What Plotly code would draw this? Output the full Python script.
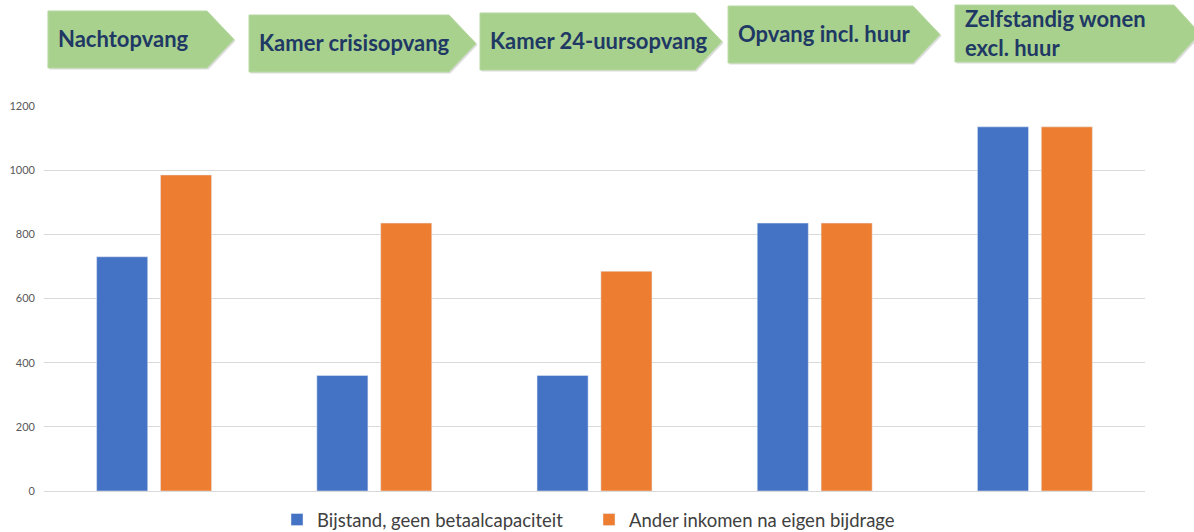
import plotly.graph_objects as go

# data
stages = ["Nachtopvang", "Kamer crisisopvang", "Kamer 24-uursopvang",
          "Opvang incl. huur", "Zelfstandig wonen<br>excl. huur"]
bijstand = [730, 360, 360, 835, 1135]
ander_inkomen = [985, 835, 685, 835, 1135]
series_names = ["Bijstand, geen betaalcapaciteit", "Ander inkomen na eigen bijdrage"]
y_ticks = [0, 200, 400, 600, 800, 1000, 1200]

W, H = 1194, 532
L, R, T, B = 44, 49, 106, 41
plot_w = W - L - R
plot_h = H - T - B


def px(x):
    return (x - L) / plot_w


def py(y):
    return (H - B - y) / plot_h


def arrow_path(x0, x1, tip, y0, y1, dx=0, dy=0):
    ym = (y0 + y1) / 2
    pts = [(x0, y0), (x1, y0), (tip, ym), (x1, y1), (x0, y1)]
    return "M " + " L ".join(f"{px(a + dx):.4f},{py(b + dy):.4f}" for a, b in pts) + " Z"


# chevron banners: left, shoulder, tip, top, bottom
arrows = [
    (48, 207, 234, 11, 68),
    (249, 449, 476, 15, 72),
    (480, 695, 722, 13, 70),
    (728, 913, 940, 6, 63),
    (955, 1174, 1200, 5, 62),
]

fig = go.Figure()
fig.add_trace(go.Bar(x=stages, y=bijstand, name=series_names[0],
                     marker_color="#4472c4"))
fig.add_trace(go.Bar(x=stages, y=ander_inkomen, name=series_names[1],
                     marker_color="#ed7d31"))

shapes = []
annotations = []
for (x0, x1, tip, y0, y1), label in zip(arrows, stages):
    shapes.append(dict(type="path", xref="paper", yref="paper",
                       path=arrow_path(x0, x1, tip, y0, y1, 1.5, 1.5),
                       fillcolor="rgba(120,120,120,0.25)", line_width=0, layer="above"))
    shapes.append(dict(type="path", xref="paper", yref="paper",
                       path=arrow_path(x0, x1, tip, y0, y1),
                       fillcolor="#a9d18e", line=dict(color="#b8d9a3", width=1),
                       layer="above"))
    annotations.append(dict(
        x=px(x0 + 8), y=py((y0 + y1) / 2 - 1), xref="paper", yref="paper",
        xanchor="left", yanchor="middle", align="left", showarrow=False,
        text=f"<b>{label}</b>",
        font=dict(family="Lato, Open Sans, sans-serif", size=22, color="#203864"),
    ))

fig.update_layout(
    width=W, height=H,
    margin=dict(l=L, r=R, t=T, b=B, autoexpand=False),
    plot_bgcolor="white", paper_bgcolor="white",
    barmode="group", bargap=0.42, bargroupgap=0.2,
    shapes=shapes, annotations=annotations,
    showlegend=True,
    legend=dict(orientation="h", x=px(277), xanchor="left", y=py(520), yanchor="middle",
                font=dict(family="Lato, Open Sans, sans-serif", size=18.5, color="#404040"),
                traceorder="normal", itemwidth=30, entrywidth=267, entrywidthmode="pixels"),
    font=dict(family="Lato, Open Sans, sans-serif"),
)
fig.update_xaxes(showticklabels=False, showgrid=False, showline=False, zeroline=False)
fig.update_yaxes(range=[0, 1200], tickvals=y_ticks, showgrid=True, gridcolor="#d9d9d9",
                 gridwidth=1, zeroline=True, zerolinecolor="#d9d9d9", zerolinewidth=1,
                 tickfont=dict(size=11, color="#595959"), ticks="", ticklabelstandoff=8)

fig.write_html("out.html", config={"displayModeBar": False},
               post_script="document.body.style.margin='0';")
